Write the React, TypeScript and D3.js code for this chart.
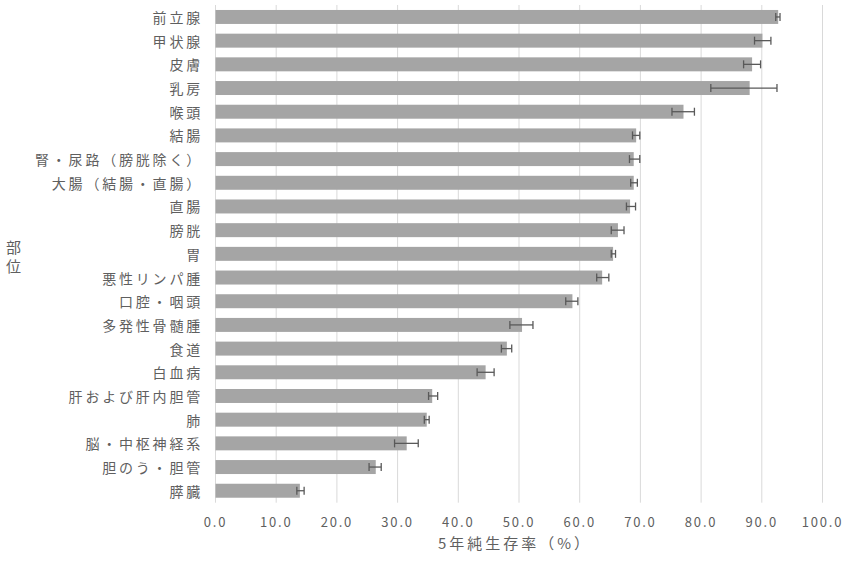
import { useEffect } from "react";
import * as d3 from "d3";

const categories = [
  "前立腺", "甲状腺", "皮膚", "乳房", "喉頭", "結腸",
  "腎・尿路（膀胱除く）", "大腸（結腸・直腸）", "直腸", "膀胱", "胃",
  "悪性リンパ腫", "口腔・咽頭", "多発性骨髄腫", "食道", "白血病",
  "肝および肝内胆管", "肺", "脳・中枢神経系", "胆のう・胆管", "膵臓",
];
const survival = [
  92.7, 90.1, 88.4, 88.0, 77.1, 69.3, 68.9, 68.9, 68.3, 66.3, 65.5,
  63.7, 58.8, 50.5, 48.0, 44.5, 35.7, 34.8, 31.5, 26.4, 13.9,
];
const ciLower = [
  92.3, 88.8, 87.0, 81.6, 75.2, 68.7, 68.2, 68.4, 67.7, 65.2, 65.2,
  62.8, 57.7, 48.5, 47.1, 43.1, 35.1, 34.4, 29.5, 25.3, 13.4,
];
const ciUpper = [
  93.0, 91.5, 89.8, 92.5, 78.9, 69.9, 69.9, 69.5, 69.2, 67.3, 65.9,
  64.8, 59.7, 52.3, 48.8, 45.9, 36.6, 35.2, 33.4, 27.3, 14.6,
];
const xTicks = [0, 10, 20, 30, 40, 50, 60, 70, 80, 90, 100];

const W = 854;
const H = 562;
const PLOT = { left: 215.5, right: 822.5, top: 5, bottom: 502.7 };
const FONT = "'Noto Sans CJK JP', 'Noto Sans', sans-serif";
const TEXT = "#5f5f5f";

export default function App() {
  useEffect(() => {
    document.body.style.margin = "0";
  }, []);

  const x = d3.scaleLinear().domain([0, 100]).range([PLOT.left, PLOT.right]);
  const y = d3
    .scaleBand<string>()
    .domain(categories)
    .range([PLOT.top, PLOT.bottom])
    .paddingInner(0.41)
    .paddingOuter(0.21);
  const bw = y.bandwidth();
  const capH = 8;

  return (
    <svg width={W} height={H} style={{ display: "block", background: "#fff" }} fontFamily={FONT}>
      {/* gridlines */}
      {xTicks.map((t) => (
        <line
          key={"g" + t}
          x1={x(t)} x2={x(t)}
          y1={PLOT.top} y2={PLOT.bottom}
          stroke="#d9d9d9" strokeWidth={1}
        />
      ))}

      {/* bars */}
      {categories.map((c, i) => (
        <rect
          key={"b" + c}
          x={x(0)} y={y(c)!}
          width={x(survival[i]) - x(0)} height={bw}
          fill="#a5a5a5"
        />
      ))}

      {/* error bars */}
      {categories.map((c, i) => {
        const cy = y(c)! + bw / 2;
        const x1 = x(ciLower[i]);
        const x2 = x(ciUpper[i]);
        return (
          <g key={"e" + c} stroke="#595959" strokeWidth={1.3}>
            <line x1={x1} x2={x2} y1={cy} y2={cy} />
            <line x1={x1} x2={x1} y1={cy - capH / 2} y2={cy + capH / 2} />
            <line x1={x2} x2={x2} y1={cy - capH / 2} y2={cy + capH / 2} />
          </g>
        );
      })}

      {/* category labels */}
      {categories.map((c) => (
        <text
          key={"l" + c}
          x={203} y={y(c)! + bw / 2}
          textAnchor="end" dominantBaseline="central"
          fontSize={14} letterSpacing={2.8} fill={TEXT}
        >
          {c}
        </text>
      ))}

      {/* x tick labels */}
      {xTicks.map((t) => (
        <text
          key={"t" + t}
          x={x(t)} y={521.5}
          textAnchor="middle" dominantBaseline="central"
          fontSize={13} letterSpacing={1.8} fill={TEXT}
        >
          {t.toFixed(1)}
        </text>
      ))}

      {/* axis titles */}
      <text
        x={515} y={542}
        textAnchor="middle" dominantBaseline="central"
        fontSize={15} letterSpacing={3} fill={TEXT}
      >
        5年純生存率（%）
      </text>
      <text x={6} y={246} dominantBaseline="central" fontSize={15} fill={TEXT}>部</text>
      <text x={6} y={265.5} dominantBaseline="central" fontSize={15} fill={TEXT}>位</text>
    </svg>
  );
}
